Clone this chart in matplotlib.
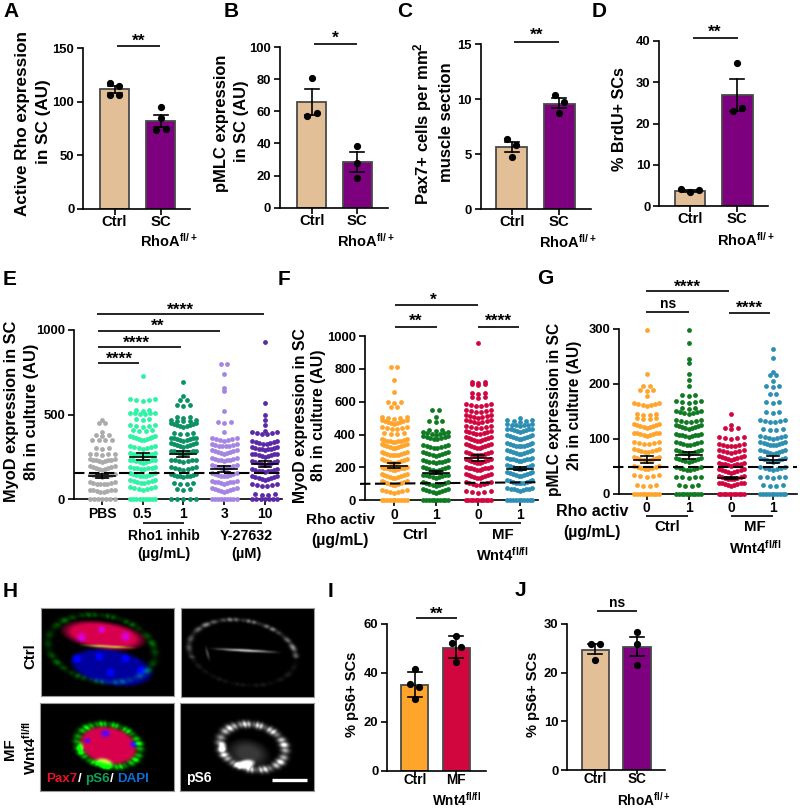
import numpy as np
import matplotlib
matplotlib.use('Agg')
import matplotlib.pyplot as plt

plt.rcParams['font.family'] = ['Liberation Sans', 'DejaVu Sans']
plt.rcParams['font.weight'] = 'bold'
plt.rcParams['mathtext.fontset'] = 'custom'
plt.rcParams['mathtext.bf'] = 'Liberation Sans:bold'
plt.rcParams['mathtext.rm'] = 'Liberation Sans:bold'
plt.rcParams['mathtext.default'] = 'bf'

W, H = 800, 808

TAN = '#E3BF98'
PURPLE = '#7D007F'
ORANGE = '#FFA52C'
GREEN = '#107A22'
CRIMSON = '#D1063F'
BLUE = '#2C8FB3'

# bar panels: bar height, error low, error high, dots
a_bars = [111.5, 82]
a_low = [108, 76]
a_high = [115, 87.7]
a_dots = [[118, 115, 106.5, 106], [95.5, 84.5, 74, 75]]
b_bars = [65.5, 28.5]
b_low = [57.5, 22.4]
b_high = [73.6, 34.4]
b_dots = [[81, 57, 59], [38.6, 27.6, 18.7]]
c_bars = [5.64, 9.6]
c_low = [5.2, 9.18]
c_high = [6.15, 10.15]
c_dots = [[6.42, 5.82, 4.79], [10.4, 9.76, 8.73]]
d_bars = [3.7, 26.9]
d_low = [3.4, 23]
d_high = [4.0, 30.7]
d_dots = [[4.1, 3.46, 3.86], [34.5, 22.9, 23.7]]
i_bars = [35, 50.3]
i_low = [30, 46]
i_high = [40.2, 55.2]
i_dots = [[41.5, 35.5, 34.2, 29.2], [55.1, 52.4, 50.7, 44.3]]
j_bars = [24.6, 25.2]
j_low = [23.7, 23.3]
j_high = [25.9, 27.2]
j_dots = [[25.9, 25.9, 22.6], [28.2, 25.9, 21.6]]

# swarm panels: rows of points as (value level, number of points at that level)
e_pbs_levels = [0, 40, 85, 130, 175, 220, 260, 300, 345, 375, 400, 450, 470]
e_pbs_counts = [7, 8, 8, 9, 9, 9, 5, 3, 4, 3, 1, 2, 1]
e_05_levels = [0, 55, 95, 135, 175, 215, 255, 300, 350, 400, 430, 470, 500, 520, 580, 730]
e_05_counts = [9, 7, 8, 9, 8, 9, 9, 7, 10, 4, 5, 3, 6, 3, 5, 1]
e_1_levels = [0, 55, 90, 130, 175, 220, 265, 310, 345, 385, 430, 460, 480, 550, 585, 610, 690]
e_1_counts = [5, 3, 4, 9, 7, 7, 10, 9, 9, 4, 9, 5, 3, 3, 2, 1, 1]
e_3_levels = [0, 45, 90, 135, 180, 225, 270, 310, 345, 400, 450, 520, 640, 660, 740, 795]
e_3_counts = [9, 9, 9, 9, 9, 9, 9, 8, 7, 1, 3, 1, 1, 1, 1, 2]
e_10_levels = [0, 25, 75, 115, 160, 205, 250, 290, 325, 385, 405, 440, 470, 500, 570, 930]
e_10_counts = [7, 4, 6, 9, 9, 9, 9, 9, 8, 6, 1, 1, 1, 1, 1, 1]
e_means = [138, 252, 268, 181, 207]
e_sems = [10, 22, 20, 17, 17]

f_c0_levels = [0, 45, 90, 135, 180, 225, 270, 315, 350, 400, 430, 465, 495, 565, 590, 660, 735, 810]
f_c0_counts = [10, 7, 10, 10, 10, 10, 10, 10, 10, 4, 6, 9, 5, 2, 3, 1, 1, 2]
f_c1_levels = [0, 45, 90, 135, 180, 225, 270, 315, 370, 400, 420, 475, 505, 545]
f_c1_counts = [10, 9, 9, 9, 9, 9, 9, 8, 8, 7, 3, 3, 1, 2]
f_m0_levels = [0, 45, 90, 135, 180, 225, 270, 315, 360, 400, 440, 470, 500, 535, 570, 625, 650, 700, 715, 960]
f_m0_counts = [11, 5, 8, 10, 10, 10, 10, 10, 10, 8, 6, 7, 7, 6, 6, 3, 3, 3, 3, 1]
f_m1_levels = [0, 55, 100, 145, 190, 235, 280, 325, 370, 415, 450, 475, 500]
f_m1_counts = [10, 9, 10, 10, 10, 10, 10, 10, 10, 9, 7, 5, 1]
f_means = [210, 168, 258, 192]
f_sems = [15, 10, 17, 10]

g_c0_levels = [0, 14, 30, 45, 60, 75, 90, 105, 120, 135, 142, 160, 178, 187, 195, 218, 298]
g_c0_counts = [10, 4, 5, 8, 9, 8, 6, 9, 9, 4, 4, 7, 1, 3, 2, 1, 1]
g_c1_levels = [0, 14, 28, 43, 58, 73, 88, 103, 118, 130, 145, 155, 165, 178, 197, 208, 218, 238, 245, 275, 298]
g_c1_counts = [10, 4, 5, 8, 9, 9, 8, 9, 9, 6, 7, 3, 5, 3, 1, 1, 1, 1, 1, 1, 1]
g_m0_levels = [0, 14, 26, 38, 50, 62, 74, 86, 100, 118, 125, 145]
g_m0_counts = [11, 9, 9, 9, 9, 9, 7, 7, 5, 3, 1, 1]
g_m1_levels = [0, 14, 28, 43, 58, 73, 88, 100, 115, 130, 147, 165, 180, 195, 205, 215, 222, 247, 263]
g_m1_counts = [10, 4, 5, 7, 9, 9, 9, 7, 4, 6, 3, 3, 2, 3, 1, 2, 1, 1, 1]
g_means = [62, 70, 28, 62]
g_sems = [6, 6, 2, 6]

fig = plt.figure(figsize=(W / 100, H / 100), dpi=100)


def panel(x0, x1, y0, y1, ymax, yticks, c0, step, xpos, xlabels, xsize=10.7, xpad=0.3, xlen=4):
    ax = fig.add_axes([x0 / W, 1 - y0 / H, (x1 - x0) / W, (y0 - y1) / H])
    ax.set_xlim((x0 - c0) / step, (x1 - c0) / step)
    ax.set_ylim(0, ymax)
    ax.patch.set_alpha(0)
    for s in ['top', 'right']:
        ax.spines[s].set_visible(False)
    for s in ['left', 'bottom']:
        ax.spines[s].set_linewidth(1.2)
    ax.set_yticks(yticks)
    ax.set_xticks(xpos)
    ax.set_xticklabels(xlabels)
    ax.tick_params(axis='y', length=4.5, width=1.2, labelsize=9.4, pad=2)
    ax.tick_params(axis='x', length=xlen, width=1.2, labelsize=xsize, pad=xpad)
    return ax


def bars(ax, vals, low, high, dots, colors, step, dodge, width=29, cap=7):
    xs = np.arange(len(vals))
    ax.bar(xs, vals, width=width / step, color=colors, edgecolor='#4a4a4a', linewidth=1.3, zorder=2)
    for x, lo, hi, pts, dd in zip(xs, low, high, dots, dodge):
        ax.plot([x, x], [lo, hi], color='black', lw=1.2, zorder=3)
        for e in (lo, hi):
            ax.plot([x - cap / step, x + cap / step], [e, e], color='black', lw=1.2, zorder=3)
        ax.scatter(x + np.array(dd) / step, pts, s=27, color='black', zorder=4, linewidths=0, clip_on=False)


def swarm(ax, x, levels, counts, color, step, rise, half=12.5, sparse=6.5):
    for lev, n in zip(levels, counts):
        gap = min(2 * half / (n - 1), sparse) if n > 1 else 0
        k = np.arange(n) - (n - 1) / 2
        xs = x + k * gap / step
        ys = lev + np.abs(k) * (rise if lev > 0 else 0)
        ax.scatter(xs, ys, s=12, color=color, linewidths=0, zorder=3, clip_on=False)


def means(ax, xs, ms, sems, step):
    for x, m, s in zip(xs, ms, sems):
        ax.plot([x - 13 / step, x + 13 / step], [m, m], color='black', lw=1.2, zorder=5)
        ax.plot([x, x], [m - s, m + s], color='black', lw=1.2, zorder=5)
        for e in (m - s, m + s):
            ax.plot([x - 6 / step, x + 6 / step], [e, e], color='black', lw=1.2, zorder=5)


tan_purple = [TAN, PURPLE]
DASH = (5, 2.2)

# A
ax = panel(83.3, 190, 208.7, 48.3, 150, [0, 50, 100, 150], 114.5, 46, [0, 1], ['Ctrl', 'SC'])
bars(ax, a_bars, a_low, a_high, a_dots, tan_purple, 46, [[-4.5, 4.5, -4.5, 4.5], [0, 0, -5, 5]])
# B
ax = panel(280, 388, 207.7, 47, 100, [0, 20, 40, 60, 80, 100], 311.7, 45.6, [0, 1], ['Ctrl', 'SC'])
bars(ax, b_bars, b_low, b_high, b_dots, tan_purple, 45.6, [[0, -5, 5], [0, 0, 0]])
# C
ax = panel(481, 590.7, 209.3, 44.3, 15, [0, 5, 10, 15], 511.7, 47.6, [0, 1], ['Ctrl', 'SC'])
bars(ax, c_bars, c_low, c_high, c_dots, tan_purple, 47.6, [[-4.7, 4.7, 0], [-4.7, 4.7, 0]], width=30.7)
# D
ax = panel(659.3, 768, 206.3, 40.7, 40, [0, 10, 20, 30, 40], 690, 47.3, [0, 1], ['Ctrl', 'SC'])
bars(ax, d_bars, d_low, d_high, d_dots, tan_purple, 47.3, [[-9.3, 0, 9.3], [0, -4.7, 4.7]], width=30.7)
# I
ax = panel(387.3, 485.7, 770.7, 624, 60, [0, 20, 40, 60], 414.7, 41.6, [0, 1], ['Ctrl', 'MF'],
           xsize=9.8, xpad=-1.5, xlen=3)
bars(ax, i_bars, i_low, i_high, i_dots, [ORANGE, CRIMSON], 41.6,
     [[0, -4.5, 4, 0], [0, -4.5, 4.5, 0]], width=27.3)
# J
ax = panel(567.3, 665, 770.3, 623.7, 30, [0, 10, 20, 30], 595.3, 41.7, [0, 1], ['Ctrl', 'SC'],
           xsize=9.8, xpad=-1.5, xlen=3)
bars(ax, j_bars, j_low, j_high, j_dots, tan_purple, 41.7, [[-4.7, 4.7, 0], [0, 0, 0]], width=27.3)

# E
step = 40.7
ax = panel(74, 281.7, 499.3, 330, 1000, [0, 500, 1000], 102, step, range(5), ['PBS', '0.5', '1', '3', '10'],
           xsize=10, xpad=1.3)
e_groups = [(e_pbs_levels, e_pbs_counts, '#ABABAB'), (e_05_levels, e_05_counts, '#2EF2A4'),
            (e_1_levels, e_1_counts, '#0B9163'), (e_3_levels, e_3_counts, '#A685E2'),
            (e_10_levels, e_10_counts, '#5B28A8')]
for x, (lv, ct, col) in enumerate(e_groups):
    swarm(ax, x, lv, ct, col, step, 5)
means(ax, range(5), e_means, e_sems, step)
ax.plot(ax.get_xlim(), [155, 155], color='black', lw=1.5, dashes=DASH, zorder=6)

# F
step = 41.7
fx = [0, 1, 2.02, 3.02]
ax = panel(365, 538, 500.3, 336, 1000, [0, 200, 400, 600, 800, 1000], 394, step, fx, ['0', '1', '0', '1'],
           xsize=10, xpad=1.8)
f_groups = [(f_c0_levels, f_c0_counts, ORANGE), (f_c1_levels, f_c1_counts, GREEN),
            (f_m0_levels, f_m0_counts, CRIMSON), (f_m1_levels, f_m1_counts, BLUE)]
for x, (lv, ct, col) in zip(fx, f_groups):
    swarm(ax, x, lv, ct, col, step, 5.5)
means(ax, fx, f_means, f_sems, step)
ax.plot([(360 - 394) / step, ax.get_xlim()[1]], [100, 110], color='black', lw=1.5, dashes=DASH, zorder=6,
        clip_on=False)

# G
step = 41.8
ax = panel(619, 797, 493.7, 329, 300, [0, 100, 200, 300], 646.7, step, fx, ['0', '1', '0', '1'],
           xsize=10, xpad=1.1)
g_groups = [(g_c0_levels, g_c0_counts, ORANGE), (g_c1_levels, g_c1_counts, GREEN),
            (g_m0_levels, g_m0_counts, CRIMSON), (g_m1_levels, g_m1_counts, BLUE)]
for x, (lv, ct, col) in zip(fx, g_groups):
    swarm(ax, x, lv, ct, col, step, 1.6)
means(ax, fx, g_means, g_sems, step)
ax.plot([(613 - 646.7) / step, ax.get_xlim()[1]], [49, 49], color='black', lw=1.5, dashes=DASH, zorder=6,
        clip_on=False)


# H micrographs
def radius(X, Y, cx, cy, a, b, deg):
    t = np.deg2rad(deg)
    u = (X - cx) * np.cos(t) + (Y - cy) * np.sin(t)
    v = -(X - cx) * np.sin(t) + (Y - cy) * np.cos(t)
    return np.sqrt((u / a) ** 2 + (v / b) ** 2), np.arctan2(v, u)


def soft(X, Y, cx, cy, a, b, deg, edge=0.25):
    r, _ = radius(X, Y, cx, cy, a, b, deg)
    return np.clip((1 - r) / edge, 0, 1)


def ring(X, Y, cx, cy, a, b, deg, w=0.08):
    r, th = radius(X, Y, cx, cy, a, b, deg)
    return np.exp(-((r - 1) / w) ** 2) * (0.2 + 0.8 * np.abs(np.sin(th * 5.3) * np.sin(th * 17.1)))


def blur(img):
    out = img.copy()
    for _ in range(2):
        out = (out + np.roll(out, 1, 0) + np.roll(out, -1, 0) + np.roll(out, 1, 1) + np.roll(out, -1, 1)) / 5
    return out


def show(img, x0, y0, x1, y1):
    ax = fig.add_axes([x0 / W, 1 - y1 / H, (x1 - x0) / W, (y1 - y0) / H])
    ax.imshow(np.clip(blur(img), 0, 1), aspect='auto', interpolation='bilinear')
    ax.set_xticks([])
    ax.set_yticks([])
    for s in ax.spines.values():
        s.set_color('#999999')
        s.set_linewidth(0.8)


# top left
X, Y = np.meshgrid(np.arange(133.0), np.arange(88.0))
top_cell = soft(X, Y, 62, 27, 45, 15, 8, 0.3)
red = 0.85 * top_cell
blue = 0.3 * top_cell + 0.62 * soft(X, Y, 70, 59, 44, 19, 10, 0.2)
for cx, cy, rr in [(40, 29, 6), (60, 21, 5), (84, 28, 6), (35, 50, 6), (58, 48, 5), (84, 50, 5), (69, 64, 5), (99, 62, 5)]:
    blue = blue + 0.6 * soft(X, Y, cx, cy, rr, rr, 0, 0.7)
green = 0.95 * soft(X, Y, 66, 38, 32, 1.3, 3, 0.6) + 0.45 * ring(X, Y, 60, 40, 54, 33, 10, 0.07)
show(np.dstack([red, green, blue]), 41.3, 607.7, 174, 695.7)

# top right
X, Y = np.meshgrid(np.arange(134.0), np.arange(89.0))
gray = 0.65 * ring(X, Y, 61, 44, 54, 32, 10, 0.05) * (0.2 + 0.8 * (Y < 50))
gray = gray + 1.1 * soft(X, Y, 64, 42, 38, 1.4, 3, 0.8) + 0.4 * soft(X, Y, 26, 45, 1.5, 9, -15, 0.8)
show(np.dstack([gray, gray, gray]), 180.7, 608, 314.3, 696.7)

# bottom left
X, Y = np.meshgrid(np.arange(134.0), np.arange(88.0))
cell = soft(X, Y, 68, 42, 31, 20, 12, 0.2)
red = 0.85 * cell
blue = 0.3 * cell
for cx, cy, rr in [(65, 30, 6), (93, 41, 5), (47, 37, 4)]:
    blue = blue + 0.7 * soft(X, Y, cx, cy, rr, rr * 0.8, 0, 0.6)
    red = red - 0.5 * soft(X, Y, cx, cy, rr, rr * 0.8, 0, 0.6)
green = 1.3 * ring(X, Y, 68, 42, 32, 21, 12, 0.12) + soft(X, Y, 64, 60, 11, 6, 15, 0.5) + 0.9 * soft(X, Y, 40, 44, 4, 6, 0, 0.6)
show(np.dstack([red, green, blue]), 39.7, 703, 173.7, 791)

# bottom right
X, Y = np.meshgrid(np.arange(134.0), np.arange(88.0))
gray = 1.3 * ring(X, Y, 72, 44, 33, 22, 12, 0.13) + 0.22 * soft(X, Y, 68, 50, 24, 15, 12, 0.6)
gray = gray + soft(X, Y, 65, 61, 11, 5, -10, 0.5) + 0.8 * soft(X, Y, 42, 44, 5, 6, 0, 0.6)
show(np.dstack([gray, gray, gray]), 180, 702.7, 314, 791)

# overlay in pixel coordinates for labels, brackets and letters
ov = fig.add_axes([0, 0, 1, 1], zorder=20)
ov.set_xlim(0, W)
ov.set_ylim(H, 0)
ov.axis('off')


def txt(x, y, s, size=11, rot=0, color='black', ha='center', va='center'):
    ov.text(x, y, s, fontsize=size, rotation=rot, color=color, ha=ha, va=va, fontweight='bold')


def hline(x0, x1, y, lw=1.2, color='black'):
    ov.plot([x0, x1], [y, y], color=color, lw=lw, solid_capstyle='butt')


for x, y, s in [(3, 17, 'A'), (224, 17, 'B'), (397, 17, 'C'), (592, 17, 'D'), (3, 285, 'E'), (278, 285, 'F'),
                (537, 284, 'G'), (3, 597, 'H'), (328, 597, 'I'), (515, 596, 'J')]:
    txt(x, y, s, size=15, ha='left', va='baseline')

# y labels
txt(22.7, 124, 'Active Rho expression', rot=90, size=12.3)
txt(43.3, 122, 'in SC (AU)', rot=90, size=12.3)
txt(221.7, 123, 'pMLC expression', rot=90, size=11.9)
txt(241.7, 121, 'in SC (AU)', rot=90, size=11.9)
txt(423, 124, 'Pax7+ cells per mm$^{2}$', rot=90, size=12)
txt(446.7, 122.5, 'muscle section', rot=90, size=12)
txt(619, 119, '% BrdU+ SCs', rot=90, size=11.7)
txt(11.7, 411.7, 'MyoD expression in SC', rot=90, size=11.8)
txt(31.7, 411.7, '8h in culture (AU)', rot=90, size=11.8)
txt(300, 415.8, 'MyoD expression in SC', rot=90, size=11.3)
txt(318, 415, '8h in culture (AU)', rot=90, size=11.3)
txt(555, 409, 'pMLC expression in SC', rot=90, size=11.2)
txt(575, 405, '2h in culture (AU)', rot=90, size=11.2)
txt(352.3, 694, '% pS6+ SCs', rot=90, size=10.5)
txt(533.3, 694, '% pS6+ SCs', rot=90, size=10.5)

# second line of x labels
rho = 'RhoA$^{fl/+}$'
wnt = 'Wnt4$^{fl/fl}$'
txt(169, 241, rho, size=10.5)
txt(365.7, 241, rho, size=10.5)
txt(567.5, 242, rho, size=10.5)
txt(745.8, 240, rho, size=10.5)
txt(456.5, 800, wnt, size=9.8)
txt(644.5, 800, rho, size=9.8)

# E labels
hline(143.3, 184, 523)
hline(230, 261.7, 523)
txt(164, 536, 'Rho1 inhib', size=10)
txt(164, 554, '(µg/mL)', size=10.5)
txt(246, 536, 'Y-27632', size=10.3)
txt(246, 554, '(µM)', size=10.5)

# F labels
txt(340, 520, 'Rho activ', size=11)
txt(340, 540, '(µg/mL)', size=11.4)
hline(393.3, 436, 523.3)
hline(479.3, 521.3, 523.3)
txt(415, 535, 'Ctrl', size=10.8)
txt(502.7, 535, 'MF', size=10.8)
txt(502.7, 555, wnt, size=10.5)

# G labels
txt(592.3, 511.7, 'Rho activ', size=11.5)
txt(592.3, 532, '(µg/mL)', size=11.4)
hline(646.3, 688.3, 515.7)
hline(731, 773.3, 515.7)
txt(667.3, 527, 'Ctrl', size=10.8)
txt(755, 527, 'MF', size=10.8)
txt(755.7, 547.7, wnt, size=10.5)

# significance
sig = [(116.7, 160.3, 46, 139, 41, '**'), (314, 357, 43.7, 335.7, 38, '*'), (514, 559.3, 41.7, 536.7, 35, '**'),
       (692.7, 737.7, 38, 715, 32, '**'), (96.7, 264, 314.3, 180, 310, '****'), (98.3, 220, 330.7, 158, 326, '**'),
       (98.3, 180.7, 347, 136.7, 343, '****'), (98.3, 139.3, 363, 119, 359, '****'),
       (395.3, 478, 305, 433.3, 300, '*'), (395.3, 437.3, 326.7, 415.7, 321, '**'),
       (478, 519.3, 326.7, 498, 321, '****'), (646, 728.7, 291, 687.3, 287, '****'),
       (728.7, 770.3, 313, 749, 308, '****'), (415.7, 457, 618, 436.7, 614, '**')]
for x0, x1, y, tx, ty, s in sig:
    hline(x0, x1, y)
    txt(tx, ty, s, size=12.5)
hline(646, 688.7, 312.3)
txt(667.7, 304, 'ns', size=10)
hline(597.3, 637, 611)
txt(616.7, 603, 'ns', size=10)

# H labels
txt(30.7, 656, 'Ctrl', rot=90, size=10.8)
txt(10, 749, 'MF', rot=90, size=10.8)
txt(29.3, 748, wnt, rot=90, size=10.8)
txt(46, 779, 'Pax7', color='#E8102A', size=9.6, ha='left')
txt(77.5, 779, '/', color='white', size=9.6, ha='left')
txt(85, 779, 'pS6', color='#0FA35A', size=9.6, ha='left')
txt(110, 779, '/', color='white', size=9.6, ha='left')
txt(117.5, 779, 'DAPI', color='#0A6FD8', size=9.6, ha='left')
txt(186, 778, 'pS6', color='white', size=10, ha='left')
hline(271.7, 307.3, 780, lw=2.4, color='white')

fig.savefig('out.png', dpi=100)
